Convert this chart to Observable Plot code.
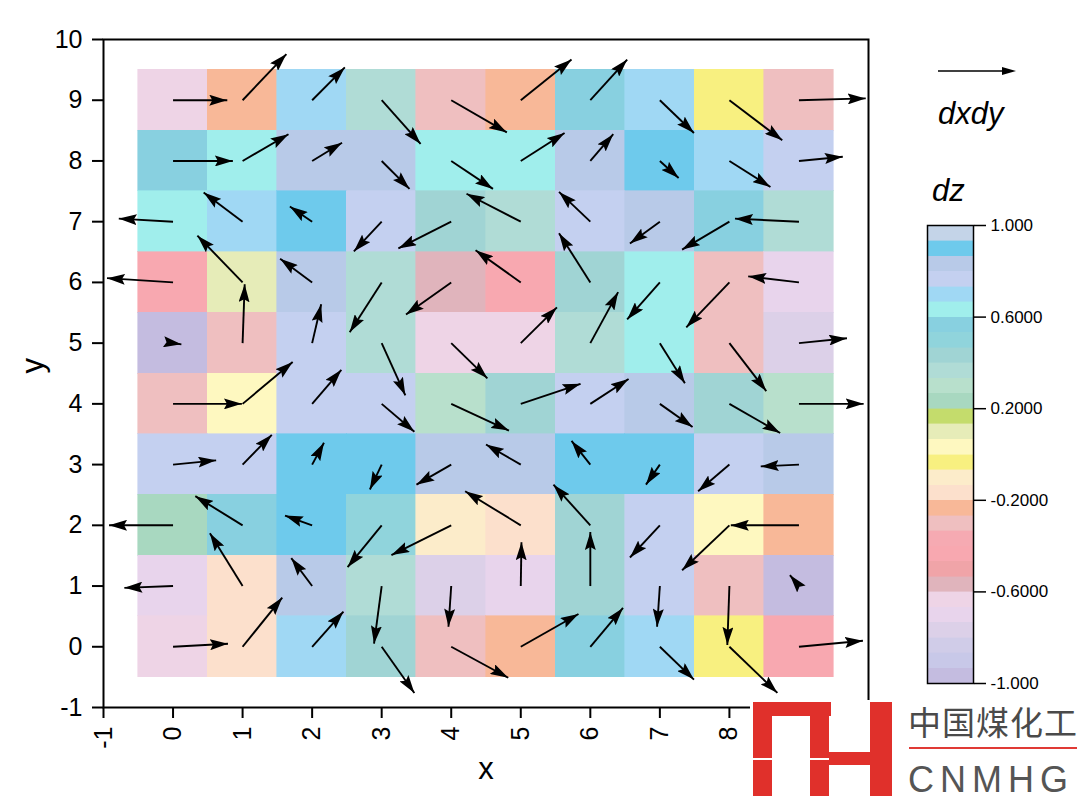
<!DOCTYPE html>
<html>
<head>
<meta charset="utf-8">
<script src="https://cdn.jsdelivr.net/npm/d3@7"></script>
<script src="https://cdn.jsdelivr.net/npm/@observablehq/plot@0.6"></script>
<style>
  body { margin: 0; background: #fff; }
  #wrap { position: relative; width: 1083px; height: 802px; overflow: hidden; font-family: "Liberation Sans", Arial, sans-serif; background: #fff; }
  #wrap > * { position: absolute; }
  #main { left: 0; top: 0; }
  #cbar { left: 920px; top: 215px; }
  .leg { font-style: italic; font-size: 31px; color: #000; line-height: 1; }
  #wm { left: 750px; top: 700px; width: 333px; height: 102px; background: #fff; }
  #wm .cn { position: absolute; left: 158px; top: 5px; font-family: "Noto Sans CJK SC", sans-serif; font-size: 33px; color: #4a4a4a; line-height: 1; letter-spacing: 1px; }
  #wm .en { position: absolute; left: 158px; top: 62px; font-family: "Liberation Sans", Arial, sans-serif; font-size: 36px; color: #555; line-height: 1; letter-spacing: 6px; }
  #wm .bar { position: absolute; left: 159px; top: 47px; width: 168px; height: 2px; background: #e03a35; }
</style>
</head>
<body>
<div id="wrap">
  <div id="main"></div>
  <div id="cbar"></div>
  <svg style="left:930px;top:60px" width="100" height="24">
    <line x1="8" y1="11" x2="75" y2="11" stroke="#000" stroke-width="1.3"></line>
    <path d="M72,7 L86,11 L72,15 Z" fill="#000"></path>
  </svg>
  <div class="leg" style="left:938px;top:98px">dxdy</div>
  <div class="leg" style="left:932px;top:175px">dz</div>
  <div id="wm">
    <svg width="150" height="102" style="position:absolute;left:0;top:0">
      <rect x="3" y="2" width="19" height="94" fill="#e0302b"></rect>
      <rect x="3" y="2" width="78" height="14" fill="#e0302b"></rect>
      <rect x="60" y="2" width="19" height="94" fill="#e0302b"></rect>
      <rect x="120" y="2" width="22" height="94" fill="#e0302b"></rect>
      <rect x="79" y="52" width="41" height="13" fill="#e0302b"></rect>
      <rect x="3" y="58" width="76" height="2" fill="#fff"></rect>
    </svg>
    <div class="cn">中国煤化工</div>
    <div class="bar"></div>
    <div class="en">CNMHG</div>
  </div>
</div>
<script>
// grid columns (x) and rows (y, listed top row first, matching the tables below)
const xs = [0, 1, 2, 3, 4, 5, 6, 7, 8, 9];
const ys = [9, 8, 7, 6, 5, 4, 3, 2, 1, 0];

// dz per cell
const dz = [
  [-0.63, -0.23, 0.70, 0.37, -0.30, -0.23, 0.57, 0.70, -0.03, -0.30],
  [ 0.57,  0.63, 0.83, 0.83,  0.63,  0.63, 0.83, 0.90,  0.70,  0.77],
  [ 0.63,  0.70, 0.90, 0.77,  0.43,  0.37, 0.77, 0.83,  0.57,  0.37],
  [-0.43,  0.10, 0.83, 0.37, -0.57, -0.43, 0.43, 0.63, -0.30, -0.70],
  [-0.97, -0.30, 0.77, 0.37, -0.63, -0.63, 0.37, 0.63, -0.30, -0.77],
  [-0.30,  0.03, 0.77, 0.77,  0.30,  0.43, 0.77, 0.83,  0.43,  0.30],
  [ 0.77,  0.77, 0.90, 0.90,  0.83,  0.83, 0.90, 0.90,  0.77,  0.83],
  [ 0.23,  0.57, 0.90, 0.50, -0.10, -0.17, 0.43, 0.77,  0.03, -0.23],
  [-0.70, -0.17, 0.83, 0.37, -0.77, -0.70, 0.43, 0.77, -0.30, -0.97],
  [-0.63, -0.17, 0.70, 0.43, -0.30, -0.23, 0.57, 0.70, -0.03, -0.43]
];

// vector components (data units)
const dx = [
  [ 0.78,  0.63,  0.47,  0.56,  0.80,  0.73,  0.53,  0.49,  0.76,  0.96],
  [ 0.86,  0.66,  0.43,  0.40,  0.60,  0.63,  0.33,  0.27,  0.59,  0.63],
  [-0.78, -0.56, -0.32, -0.40, -0.76, -0.78, -0.45, -0.43, -0.68, -0.92],
  [-0.95, -0.65, -0.46, -0.46, -0.65, -0.65, -0.45, -0.47, -0.62, -0.73],
  [ 0.12,  0.03,  0.13,  0.34,  0.52,  0.52,  0.40,  0.36,  0.53,  0.69],
  [ 0.99,  0.72,  0.42,  0.47,  0.83,  0.86,  0.55,  0.47,  0.73,  0.93],
  [ 0.62,  0.42,  0.17, -0.17, -0.50, -0.50, -0.27, -0.20, -0.45, -0.55],
  [-0.92, -0.68, -0.39, -0.49, -0.86, -0.80, -0.53, -0.43, -0.68, -0.98],
  [-0.70, -0.47, -0.30, -0.11, -0.04,  0.01,  0.00, -0.04, -0.03, -0.13],
  [ 0.79,  0.57,  0.45,  0.47,  0.82,  0.83,  0.47,  0.49,  0.69,  0.92]
];
const dy = [
  [ 0.00,  0.76,  0.54, -0.72, -0.53,  0.67,  0.67, -0.54, -0.66,  0.03],
  [ 0.00,  0.44,  0.30, -0.46, -0.46,  0.46,  0.44, -0.28, -0.43,  0.07],
  [ 0.05,  0.48,  0.25, -0.49, -0.44,  0.46,  0.49, -0.36, -0.46,  0.05],
  [ 0.07,  0.77,  0.39, -0.82, -0.53,  0.53,  0.81, -0.61, -0.74,  0.10],
  [-0.02,  0.97,  0.64, -0.86, -0.58,  0.59,  0.84, -0.66, -0.79,  0.08],
  [ 0.00,  0.69,  0.56, -0.46, -0.44,  0.33,  0.41, -0.38, -0.48,  0.00],
  [ 0.07,  0.49,  0.36, -0.41, -0.33,  0.33,  0.39, -0.33, -0.44, -0.03],
  [ 0.00,  0.48,  0.16, -0.69, -0.49,  0.56,  0.67, -0.53, -0.74,  0.00],
  [-0.03,  0.87,  0.46, -0.95, -0.67,  0.72,  0.89, -0.67, -0.97,  0.18],
  [ 0.05,  0.81,  0.58, -0.76, -0.51,  0.54,  0.64, -0.54, -0.76,  0.10]
];

// axis ticks
const xTicks = [-1, 0, 1, 2, 3, 4, 5, 6, 7, 8, 9];
const yTicks = [-1, 0, 1, 2, 3, 4, 5, 6, 7, 8, 9, 10];
const colorbarTicks = [-1, -0.6, -0.2, 0.2, 0.6, 1];

// 30 colour levels, from dz = -1 (bottom) to dz = 1 (top)
const levelColors = [
  "#c4bce0", "#c8c8e8", "#d0cce8", "#dcd0e8", "#e8d4ec", "#eed4e6",
  "#e0b4bc", "#f0a4a8", "#f8a8b0", "#f6aab2", "#efbfc0", "#f8b898",
  "#fce0cc", "#fcecca", "#f8f080", "#fef8c0", "#e6ecb8", "#c4dc6c",
  "#a8d8c0", "#b8e0cc", "#b0dcd6", "#a0d4d4", "#90d4dc", "#88d0e0",
  "#a0eeec", "#a0d8f4", "#c4d0f0", "#b8cae8", "#6ecaec", "#c4d4e8"
];
const levelCount = levelColors.length;
const thresholds = d3.range(1, levelCount).map(k => -1 + 2 * k / levelCount);
const colorOpts = { type: "threshold", domain: thresholds, range: levelColors };

const cells = [];
ys.forEach((y, r) => xs.forEach((x, c) => cells.push({ x, y, dz: dz[r][c], dx: dx[r][c], dy: dy[r][c] })));

const font = '"Liberation Sans", Arial, sans-serif';

const main = Plot.plot({
  width: 1083,
  height: 802,
  marginLeft: 103,
  marginRight: 215,
  marginTop: 39,
  marginBottom: 95,
  style: { fontFamily: font, fontSize: "24px", background: "transparent", color: "#000" },
  x: { domain: [-1, 10] },
  y: { domain: [-1, 10] },
  color: colorOpts,
  marks: [
    Plot.rect(cells, { x1: d => d.x - 0.5, x2: d => d.x + 0.5, y1: d => d.y - 0.5, y2: d => d.y + 0.5, fill: "dz", stroke: "dz", strokeWidth: 0.6, shapeRendering: "crispEdges" }),
    Plot.link(cells, { x1: "x", y1: "y", x2: d => d.x + d.dx, y2: d => d.y + d.dy, stroke: "#000", strokeWidth: 1.9 }),
    Plot.frame({ stroke: "#000", strokeWidth: 2 }),
    Plot.axisX({ ticks: xTicks, tickSize: 11, tickPadding: 8, tickRotate: -90, tickFormat: d => String(d), label: null, strokeWidth: 2, fontSize: 25 }),
    Plot.axisY({ ticks: yTicks, tickSize: 11, tickPadding: 10, tickFormat: d => String(d), label: null, strokeWidth: 2, fontSize: 25 }),
    Plot.text(["x"], { frameAnchor: "bottom", text: d => d, dy: 71, fontSize: 31 }),
    Plot.text(["y"], { frameAnchor: "left", text: d => d, dx: -70, rotate: -90, fontSize: 31 })
  ]
});

// filled triangular arrow heads
const svg = d3.select(main);
svg.append("defs").append("marker")
  .attr("id", "vhead")
  .attr("viewBox", "0 -5.5 18 11")
  .attr("refX", 18).attr("refY", 0)
  .attr("markerWidth", 18).attr("markerHeight", 11)
  .attr("markerUnits", "userSpaceOnUse")
  .attr("orient", "auto")
  .append("path").attr("d", "M0,-5.5L18,0L0,5.5L3,0Z").attr("fill", "#000");
svg.selectAll('g[aria-label="link"] path').attr("marker-end", "url(#vhead)");
document.getElementById("main").appendChild(main);

// colour bar
const bands = d3.range(levelCount).map(i => ({ lo: -1 + 2 * i / levelCount, hi: -1 + 2 * (i + 1) / levelCount, mid: -1 + 2 * (i + 0.5) / levelCount }));
const cbar = Plot.plot({
  width: 160,
  height: 480,
  marginLeft: 7,
  marginRight: 107,
  marginTop: 10,
  marginBottom: 12,
  style: { fontFamily: font, fontSize: "17px", background: "transparent", color: "#000" },
  y: { domain: [-1, 1] },
  color: colorOpts,
  marks: [
    Plot.rect(bands, { y1: "lo", y2: "hi", fill: "mid", stroke: "mid", strokeWidth: 0.6, shapeRendering: "crispEdges" }),
    Plot.frame({ stroke: "#000", strokeWidth: 1.5 }),
    Plot.axisY({ anchor: "right", ticks: colorbarTicks, tickSize: 12, tickPadding: 5, strokeWidth: 1.5, fontSize: 17, label: null,
      tickFormat: d => (Math.abs(d) === 1 ? d.toFixed(3) : d.toFixed(4)) })
  ]
});
document.getElementById("cbar").appendChild(cbar);
</script>
</body>
</html>
